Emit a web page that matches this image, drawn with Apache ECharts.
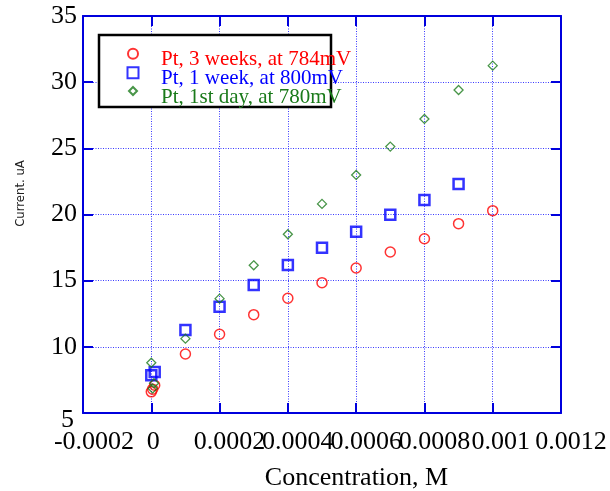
<!DOCTYPE html>
<html>
<head>
<meta charset="utf-8">
<script src="https://cdn.jsdelivr.net/npm/echarts@6/dist/echarts.min.js"></script>
<style>
  html, body { margin: 0; padding: 0; background: #fff; }
  #chart { width: 610px; height: 491px; }
</style>
</head>
<body>
<div id="chart"></div>
<script>
// Axis ranges and tick labels
const xMin = -0.0002, xMax = 0.0012, xStep = 0.0002;
const yMin = 5, yMax = 35, yStep = 5;
const xTickLabels = ['-0.0002', '0', '0.0002', '0.0004', '0.0006', '0.0008', '0.001', '0.0012'];
const yTickLabels = ['5', '10', '15', '20', '25', '30', '35'];

// Series names
const seriesNames = ['Pt, 3 weeks, at 784mV', 'Pt, 1 week, at 800mV', 'Pt, 1st day, at 780mV'];

// Pt electrode, 3 weeks, 784 mV
const conc3w = [0, 0.000004, 0.00001, 0.0001, 0.0002, 0.0003, 0.0004, 0.0005, 0.0006, 0.0007, 0.0008, 0.0009, 0.001];
const curr3w = [6.6, 6.8, 7.1, 9.46, 10.95, 12.43, 13.67, 14.85, 15.96, 17.17, 18.17, 19.31, 20.29];

// Pt electrode, 1 week, 800 mV
const conc1w = [0, 0.00001, 0.0001, 0.0002, 0.0003, 0.0004, 0.0005, 0.0006, 0.0007, 0.0008, 0.0009];
const curr1w = [7.85, 8.1, 11.27, 13.03, 14.67, 16.19, 17.49, 18.7, 19.98, 21.1, 22.31];

// Pt electrode, 1st day, 780 mV
const conc1d = [0, 0.000004, 0.000008, 0.0001, 0.0002, 0.0003, 0.0004, 0.0005, 0.0006, 0.0007, 0.0008, 0.0009, 0.001];
const curr1d = [8.8, 6.85, 7.25, 10.62, 13.64, 16.16, 18.51, 20.8, 22.99, 25.13, 27.22, 29.41, 31.25];

const RED = '#ff0000', BLUE = '#0000ff', GREEN = '#1a7a1a';
const AXIS_BLUE = '#0000dd';
const SERIF = '"Liberation Serif", "Times New Roman", serif';

function pairs(xs, ys) { return xs.map((x, i) => [x, ys[i]]); }

// Tick labels sit a little right of their ticks, proportional to their width
const ctx = document.createElement('canvas').getContext('2d');
ctx.font = '26px ' + SERIF;
const xRich = {};
xTickLabels.forEach((t, i) => {
  const w = ctx.measureText(t).width;
  xRich['x' + i] = { fontSize: 26, fontFamily: SERIF, color: '#000', padding: [0, 0, 0, Math.round(0.28 * w)] };
});
const yRich = {
  low: { fontSize: 26, fontFamily: SERIF, color: '#000', padding: [14, 3, 0, 0] },
  n: { fontSize: 26, fontFamily: SERIF, color: '#000' }
};

const axisLine = { show: true, onZero: false, lineStyle: { color: AXIS_BLUE, width: 2 } };
const axisTick = { show: true, inside: true, length: 10, lineStyle: { color: AXIS_BLUE, width: 2 } };
const gridLine = { show: true, lineStyle: { color: '#3a3aff', width: 1, type: [1, 1.5] } };

// Legend rows: marker centre column and text start column
const legendIconX = 132, legendTextX = 160;
const legendIconY = [52.7, 71.7, 90];
const legendIconSizes = [10, 11, 8];
const legendColors = [RED, BLUE, GREEN];
const legendTextDrop = 12;

function legendFor(i) {
  const s = legendIconSizes[i];
  const left = legendIconX - s / 2;
  const padLeft = legendTextX - (left + s + 5);
  const boxH = 19 + legendTextDrop;
  return {
    data: [seriesNames[i]], orient: 'vertical', padding: 0, z: 5, selectedMode: false,
    left: left, top: legendIconY[i] - boxH / 2,
    itemWidth: s, itemHeight: s,
    formatter: name => '{t|' + name + '}',
    textStyle: {
      rich: {
        t: {
          fontSize: 21, fontFamily: SERIF, color: legendColors[i], lineHeight: 19,
          padding: [legendTextDrop, 0, 0, padLeft]
        }
      }
    }
  };
}

const chart = echarts.init(document.getElementById('chart'), null, { renderer: 'canvas' });

chart.setOption({
  animation: false,
  backgroundColor: '#fff',
  grid: { left: 83, right: 49, top: 16, bottom: 78, containLabel: false, outerBoundsMode: 'none' },
  xAxis: [
    {
      type: 'value', position: 'bottom', min: xMin, max: xMax, interval: xStep,
      axisLine, axisTick, splitLine: gridLine,
      axisLabel: {
        margin: 16, hideOverlap: false, showMinLabel: true, showMaxLabel: true,
        formatter: v => {
          const i = Math.round((v - xMin) / xStep);
          return '{x' + i + '|' + xTickLabels[i] + '}';
        },
        rich: xRich
      },
      name: 'Concentration, M', nameLocation: 'middle', nameGap: 52, nameMoveOverlap: false,
      nameTextStyle: { fontSize: 26, fontFamily: SERIF, color: '#000', padding: [0, 0, 0, 69] }
    },
    {
      type: 'value', position: 'top', min: xMin, max: xMax, interval: xStep,
      axisLine, axisTick, splitLine: { show: false }, axisLabel: { show: false }
    }
  ],
  yAxis: [
    {
      type: 'value', position: 'left', min: yMin, max: yMax, interval: yStep,
      axisLine, axisTick, splitLine: gridLine,
      axisLabel: {
        margin: 6, hideOverlap: false, showMinLabel: true, showMaxLabel: true,
        formatter: v => {
          const i = Math.round((v - yMin) / yStep);
          return (i === 0 ? '{low|' : '{n|') + yTickLabels[i] + '}';
        },
        rich: yRich
      },
      name: 'Current. uA', nameLocation: 'middle', nameGap: 56, nameMoveOverlap: false,
      nameTextStyle: {
        fontSize: 13, fontFamily: '"Liberation Sans Narrow", "DejaVu Sans Condensed", "Liberation Sans", sans-serif',
        color: '#222', padding: [0, 0, 0, 42]
      }
    },
    {
      type: 'value', position: 'right', min: yMin, max: yMax, interval: yStep,
      axisLine, axisTick, splitLine: { show: false }, axisLabel: { show: false }
    }
  ],
  graphic: [
    {
      type: 'rect', z: 3, silent: true,
      shape: { x: 99, y: 35, width: 232, height: 72 },
      style: { fill: '#fff', stroke: '#000', lineWidth: 2.5 }
    }
  ],
  legend: seriesNames.map((n, i) => legendFor(i)),
  series: [
    {
      name: seriesNames[0], type: 'scatter', symbol: 'circle', symbolSize: 10,
      itemStyle: { color: 'transparent', borderColor: RED, borderWidth: 1.5 },
      data: pairs(conc3w, curr3w)
    },
    {
      name: seriesNames[1], type: 'scatter', symbol: 'rect', symbolSize: 10,
      itemStyle: { color: 'transparent', borderColor: BLUE, borderWidth: 2.5 },
      data: pairs(conc1w, curr1w)
    },
    {
      name: seriesNames[2], type: 'scatter', symbol: 'diamond', symbolSize: 9,
      itemStyle: { color: 'transparent', borderColor: GREEN, borderWidth: 1.3 },
      data: pairs(conc1d, curr1d)
    }
  ]
});
</script>
</body>
</html>
